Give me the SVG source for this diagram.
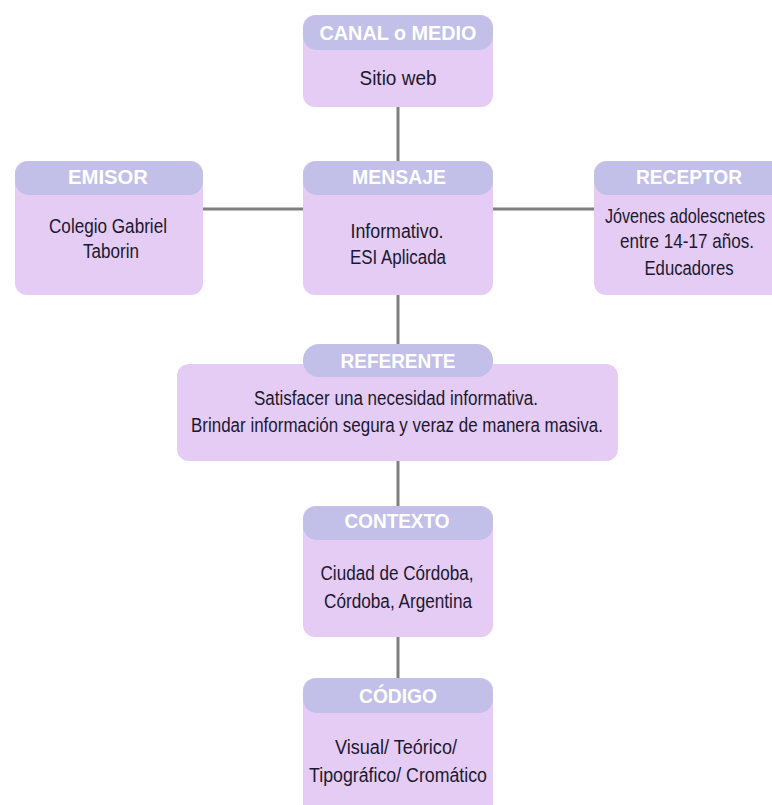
<svg xmlns="http://www.w3.org/2000/svg" width="772" height="805" viewBox="0 0 772 805">
<style>
.body{fill:#e4ccf5}
.head{fill:#c2c0e8}
.t{font-family:"Liberation Sans",Arial,sans-serif;font-size:21px;font-weight:bold;fill:#ffffff;text-anchor:middle}
.b{font-family:"Liberation Sans",Arial,sans-serif;font-size:20px;fill:#1c1830;text-anchor:middle}
.c{stroke:#7f7f7f;stroke-width:3;fill:none}
</style>
<rect width="772" height="805" fill="#ffffff"/>
<g id="connectors">
<line class="c" x1="398" y1="106" x2="398" y2="161"/>
<line class="c" x1="203" y1="209" x2="303" y2="209"/>
<line class="c" x1="493" y1="209" x2="594" y2="209"/>
<line class="c" x1="398" y1="295" x2="398" y2="344"/>
<line class="c" x1="398" y1="461" x2="398" y2="506"/>
<line class="c" x1="398" y1="637" x2="398" y2="678"/>
</g>
<g id="canal">
<rect class="body" x="303" y="15" width="190" height="92" rx="12"/>
<rect class="head" x="303" y="15" width="190" height="35" rx="14"/>
<text class="t" x="398" y="40" textLength="157" lengthAdjust="spacingAndGlyphs">CANAL o MEDIO</text>
<text class="b" x="398" y="85" textLength="77" lengthAdjust="spacingAndGlyphs">Sitio web</text>
</g>
<g id="emisor">
<rect class="body" x="15" y="161" width="188" height="134" rx="12"/>
<rect class="head" x="15" y="161" width="188" height="34" rx="14"/>
<text class="t" x="108" y="184" textLength="80" lengthAdjust="spacingAndGlyphs">EMISOR</text>
<text class="b" x="108" y="233" textLength="118" lengthAdjust="spacingAndGlyphs">Colegio Gabriel</text>
<text class="b" x="111" y="258" textLength="56" lengthAdjust="spacingAndGlyphs">Taborin</text>
</g>
<g id="mensaje">
<rect class="body" x="303" y="161" width="190" height="134" rx="12"/>
<rect class="head" x="303" y="161" width="190" height="34" rx="14"/>
<text class="t" x="399" y="184" textLength="94" lengthAdjust="spacingAndGlyphs">MENSAJE</text>
<text class="b" x="397" y="238" textLength="93" lengthAdjust="spacingAndGlyphs">Informativo.</text>
<text class="b" x="398" y="264" textLength="96" lengthAdjust="spacingAndGlyphs">ESI Aplicada</text>
</g>
<g id="receptor">
<path class="body" d="M606,161 H772 V295 H606 A12,12 0 0 1 594,283 V173 A12,12 0 0 1 606,161 Z"/>
<path class="head" d="M608,161 H772 V195 H608 A14,14 0 0 1 594,181 V175 A14,14 0 0 1 608,161 Z"/>
<text class="t" x="689" y="184" textLength="106" lengthAdjust="spacingAndGlyphs">RECEPTOR</text>
<text class="b" transform="translate(685,223) scale(0.81,1)">Jóvenes adolescnetes</text>
<text class="b" transform="translate(687,248) scale(0.855,1)">entre 14-17 años.</text>
<text class="b" x="689" y="275" textLength="89" lengthAdjust="spacingAndGlyphs">Educadores</text>
</g>
<g id="referente">
<rect class="body" x="177" y="364" width="441" height="97" rx="12"/>
<rect class="head" x="303" y="344" width="190" height="33" rx="16"/>
<text class="t" x="398" y="368" textLength="115" lengthAdjust="spacingAndGlyphs">REFERENTE</text>
<text class="b" x="396" y="405" textLength="284" lengthAdjust="spacingAndGlyphs">Satisfacer una necesidad informativa.</text>
<text class="b" x="397" y="432" textLength="412" lengthAdjust="spacingAndGlyphs">Brindar información segura y veraz de manera masiva.</text>
</g>
<g id="contexto">
<rect class="body" x="303" y="506" width="190" height="131" rx="12"/>
<rect class="head" x="303" y="506" width="190" height="34" rx="14"/>
<text class="t" x="397" y="528" textLength="105" lengthAdjust="spacingAndGlyphs">CONTEXTO</text>
<text class="b" x="397" y="580" textLength="153" lengthAdjust="spacingAndGlyphs">Ciudad de Córdoba,</text>
<text class="b" x="398" y="608" textLength="148" lengthAdjust="spacingAndGlyphs">Córdoba, Argentina</text>
</g>
<g id="codigo">
<path class="body" d="M315,678 H481 A12,12 0 0 1 493,690 V805 H303 V690 A12,12 0 0 1 315,678 Z"/>
<rect class="head" x="303" y="678" width="190" height="35" rx="14"/>
<text class="t" x="398" y="703" textLength="78" lengthAdjust="spacingAndGlyphs">CÓDIGO</text>
<text class="b" x="396" y="754" textLength="122" lengthAdjust="spacingAndGlyphs">Visual/ Teórico/</text>
<text class="b" x="398" y="782" textLength="178" lengthAdjust="spacingAndGlyphs">Tipográfico/ Cromático</text>
</g>
</svg>
